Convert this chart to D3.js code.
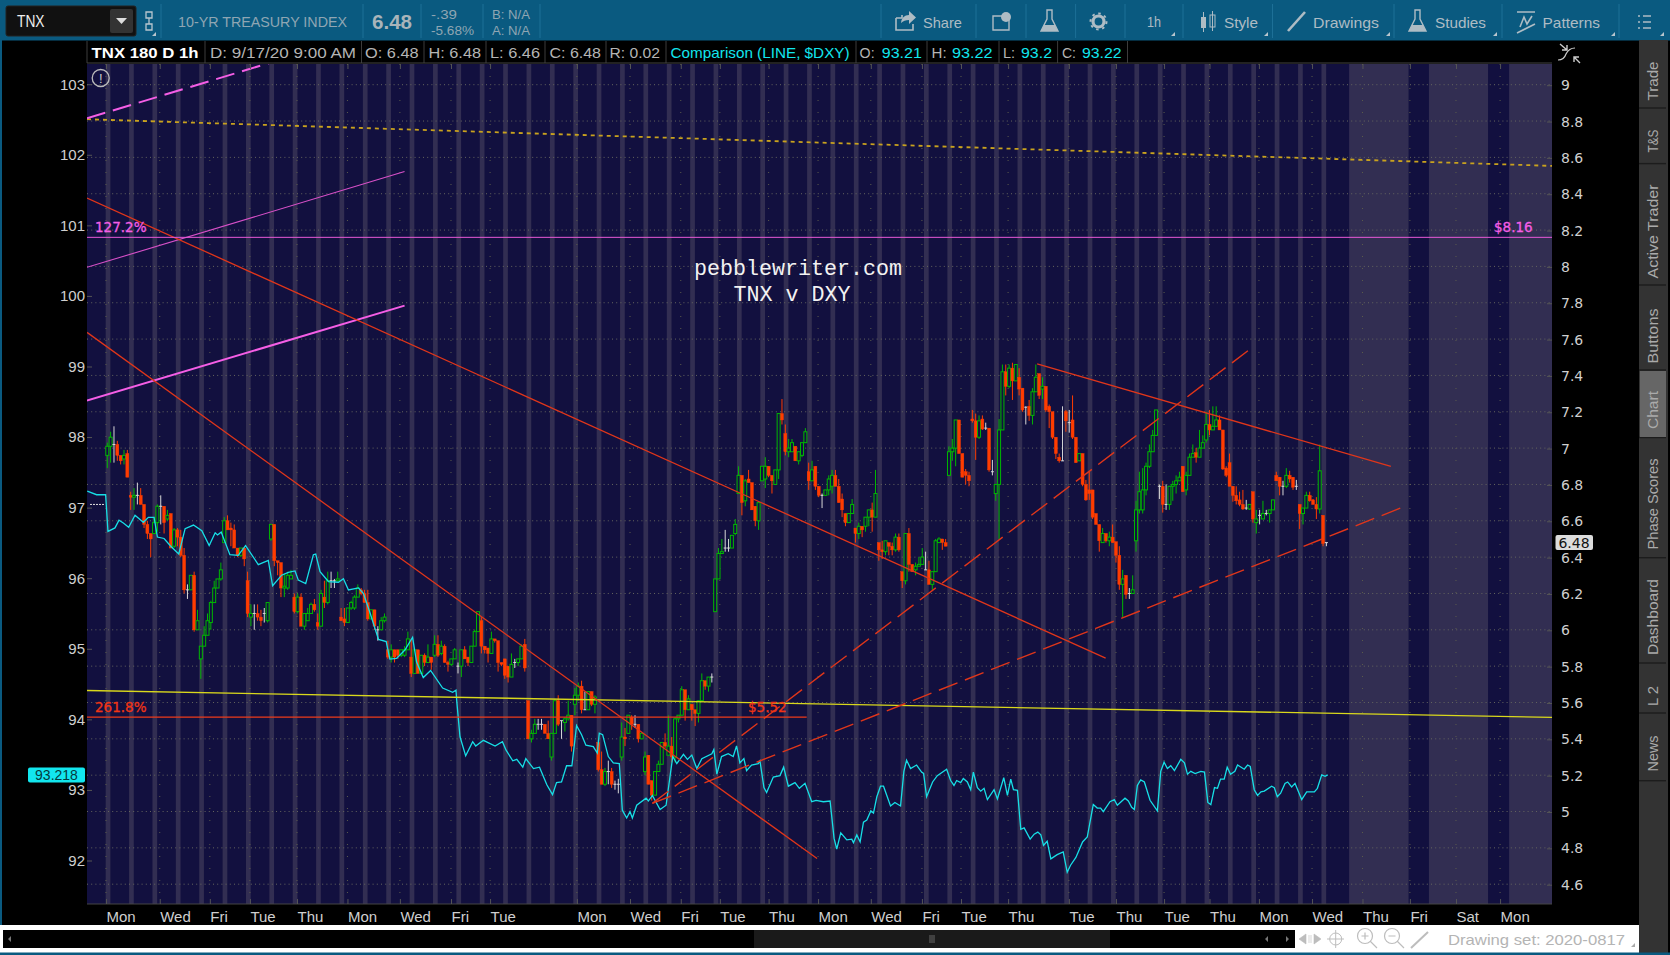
<!DOCTYPE html>
<html>
<head>
<meta charset="utf-8">
<title>TNX v DXY</title>
<script src="https://cdnjs.cloudflare.com/ajax/libs/d3/7.8.5/d3.min.js"></script>
<style>
  html, body { margin: 0; padding: 0; background: #000; overflow: hidden; }
  svg { display: block; }
  text { font-family: "Liberation Sans", sans-serif; }
</style>
</head>
<body>
<div class="canvas"></div>
<script>
// candles are [bar, open, high, low, close], one bar = 1 hour, 7 bars a day
const candlesAug = [
  [0,6.96,7.03,6.89,7.01],[1,7.01,7.09,6.92,7.06],[2,7.02,7.12,6.92,7.02],[3,7.02,7.04,6.93,6.96],[4,6.96,6.96,6.91,6.93],[5,6.94,6.99,6.91,6.96],[6,6.97,6.99,6.84,6.84],
  [7,6.74,6.76,6.66,6.73],[8,6.73,6.78,6.66,6.74],[9,6.74,6.81,6.69,6.74],[10,6.74,6.78,6.69,6.69],[11,6.69,6.69,6.56,6.58],[12,6.58,6.60,6.50,6.53],[13,6.53,6.53,6.40,6.50],
  [14,6.53,6.62,6.53,6.59],[15,6.59,6.69,6.54,6.68],[16,6.68,6.74,6.58,6.68],[17,6.68,6.68,6.53,6.59],[18,6.61,6.66,6.60,6.63],[19,6.64,6.64,6.45,6.45],[20,6.46,6.56,6.45,6.55],
  [21,6.55,6.56,6.46,6.51],[22,6.51,6.55,6.40,6.41],[23,6.41,6.45,6.20,6.22],[24,6.22,6.25,6.17,6.22],[25,6.22,6.30,6.22,6.30],[26,6.30,6.32,5.99,6.00],[27,6.00,6.11,6.00,6.05],
  [28,5.84,5.91,5.73,5.91],[29,5.91,6.02,5.91,5.97],[30,5.97,6.09,5.97,6.05],[31,6.04,6.16,6.00,6.15],[32,6.15,6.27,6.15,6.23],[33,6.23,6.28,6.23,6.28],[34,6.28,6.37,6.27,6.33],
  [35,6.48,6.62,6.48,6.60],[36,6.60,6.63,6.55,6.55],[37,6.56,6.59,6.46,6.55],[38,6.55,6.58,6.45,6.45],[39,6.45,6.45,6.40,6.41],[40,6.41,6.45,6.40,6.45],[41,6.45,6.45,6.35,6.39],
  [42,6.27,6.32,6.07,6.09],[43,6.07,6.14,6.02,6.09],[44,6.09,6.14,6.00,6.09],[45,6.09,6.14,6.05,6.07],[46,6.07,6.11,6.02,6.05],[47,6.09,6.12,6.04,6.09],[48,6.05,6.15,6.04,6.15],
  [49,6.50,6.58,6.49,6.58],[50,6.58,6.58,6.35,6.38],[51,6.38,6.38,6.30,6.37],[52,6.37,6.37,6.18,6.23],[53,6.23,6.31,6.18,6.24],[54,6.23,6.32,6.22,6.30],[55,6.28,6.33,6.28,6.30],
  [56,6.18,6.20,6.09,6.10],[57,6.10,6.20,6.09,6.18],[58,6.18,6.20,6.02,6.02],[59,6.02,6.09,6.00,6.09],[60,6.05,6.12,6.05,6.09],[61,6.09,6.15,6.09,6.14],[62,6.14,6.17,6.10,6.11],
  [63,6.04,6.09,6.00,6.02],[64,6.02,6.22,6.02,6.20],[65,6.18,6.27,6.12,6.15],[66,6.15,6.32,6.14,6.27],[67,6.27,6.32,6.23,6.27],[68,6.27,6.28,6.23,6.27],[69,6.27,6.32,6.27,6.28],
  [70,6.07,6.12,6.05,6.05],[71,6.06,6.12,6.02,6.04],[72,6.04,6.12,6.04,6.12],[73,6.12,6.16,6.11,6.15],[74,6.12,6.19,6.11,6.18],[75,6.18,6.25,6.18,6.23],[76,6.22,6.23,6.19,6.20],
  [77,6.20,6.22,6.15,6.15],[78,6.15,6.22,6.05,6.06],[79,6.06,6.11,6.06,6.11],[80,6.11,6.11,6.00,6.02],[81,6.00,6.02,5.94,6.00],[82,6.00,6.07,6.00,6.05],[83,6.05,6.09,6.04,6.07]
];
const candlesSep = [
  [84,5.89,5.94,5.84,5.85],[85,5.85,5.92,5.82,5.89],[86,5.89,5.89,5.82,5.85],[87,5.89,5.89,5.84,5.86],[88,5.86,5.89,5.85,5.89],[89,5.86,5.91,5.85,5.89],[90,5.89,5.99,5.89,5.95],
  [91,5.85,5.95,5.74,5.76],[92,5.76,5.89,5.76,5.89],[93,5.89,5.89,5.76,5.76],[94,5.76,5.86,5.76,5.86],[95,5.86,5.87,5.80,5.82],[96,5.82,5.92,5.82,5.85],[97,5.85,5.85,5.78,5.82],
  [98,5.86,5.97,5.85,5.92],[99,5.92,5.97,5.85,5.86],[100,5.87,5.94,5.86,5.91],[101,5.91,5.92,5.82,5.82],[102,5.82,5.83,5.77,5.81],[103,5.81,5.84,5.80,5.84],[104,5.84,5.90,5.84,5.89],
  [105,5.80,5.82,5.76,5.80],[106,5.80,5.89,5.74,5.89],[107,5.89,5.91,5.84,5.84],[108,5.85,5.85,5.80,5.82],[109,5.82,5.91,5.82,5.91],[110,5.91,6.00,5.91,5.99],[111,5.99,6.10,5.99,6.10],
  [112,6.05,6.07,5.87,5.91],[113,5.91,5.91,5.87,5.89],[114,5.90,5.90,5.82,5.87],[115,5.87,5.99,5.87,5.95],[116,5.95,5.95,5.93,5.94],[117,5.94,5.94,5.77,5.82],[118,5.82,5.82,5.80,5.81],
  [119,5.84,5.84,5.73,5.75],[120,5.80,5.80,5.71,5.74],[121,5.74,5.87,5.74,5.81],[122,5.82,5.84,5.79,5.82],[123,5.82,5.84,5.80,5.84],[124,5.84,5.92,5.84,5.91],[125,5.92,5.95,5.77,5.79],
  [126,5.61,5.61,5.40,5.40],[127,5.40,5.45,5.38,5.43],[128,5.43,5.51,5.43,5.48],[129,5.48,5.51,5.45,5.48],[130,5.48,5.51,5.45,5.48],[131,5.48,5.48,5.43,5.43],[132,5.43,5.50,5.40,5.40],
  [133,5.30,5.43,5.28,5.43],[134,5.43,5.62,5.43,5.61],[135,5.61,5.64,5.47,5.48],[136,5.50,5.50,5.40,5.50],[137,5.49,5.52,5.44,5.51],[138,5.51,5.61,5.50,5.53],[139,5.53,5.53,5.33,5.36],
  [140,5.59,5.68,5.53,5.64],[141,5.64,5.71,5.61,5.69],[142,5.69,5.72,5.54,5.56],[143,5.56,5.66,5.56,5.56],[144,5.56,5.66,5.56,5.66],[145,5.66,5.66,5.58,5.59],[146,5.59,5.64,5.54,5.63],
  [147,5.38,5.38,5.22,5.23],[148,5.23,5.33,5.15,5.15],[149,5.15,5.24,5.14,5.22],[150,5.22,5.28,5.15,5.22],[151,5.22,5.24,5.13,5.15],[152,5.15,5.17,5.12,5.15],[153,5.15,5.18,5.10,5.15],
  [154,5.30,5.49,5.28,5.41],[155,5.41,5.46,5.36,5.40],[156,5.43,5.53,5.43,5.53],[157,5.52,5.53,5.45,5.48],[158,5.48,5.53,5.46,5.48],[159,5.48,5.48,5.38,5.40],[160,5.40,5.43,5.40,5.43],
  [161,5.22,5.33,5.20,5.30],[162,5.31,5.31,5.15,5.15],[163,5.17,5.17,5.06,5.09],[164,5.09,5.22,5.09,5.22],[165,5.22,5.28,5.22,5.26],[166,5.26,5.38,5.26,5.38],[167,5.38,5.43,5.35,5.36],
  [168,5.31,5.53,5.31,5.36],[169,5.36,5.41,5.27,5.30],[170,5.30,5.52,5.27,5.51],[171,5.51,5.53,5.49,5.53],[172,5.53,5.69,5.53,5.67],[173,5.67,5.67,5.50,5.56],[174,5.56,5.64,5.56,5.62],
  [175,5.59,5.59,5.50,5.56],[176,5.56,5.56,5.47,5.54],[177,5.54,5.61,5.49,5.61],[178,5.61,5.76,5.61,5.72],[179,5.72,5.72,5.67,5.69],[180,5.69,5.74,5.66,5.74],[181,5.74,5.76,5.71,5.74]
];
const candlesOct = [
  [182,6.10,6.28,6.10,6.28],[183,6.28,6.45,6.28,6.42],[184,6.42,6.50,6.42,6.43],[185,6.45,6.55,6.43,6.45],[186,6.45,6.50,6.43,6.45],[187,6.45,6.52,6.45,6.52],[188,6.53,6.61,6.52,6.58],
  [189,6.75,6.90,6.75,6.85],[190,6.85,6.85,6.63,6.70],[191,6.71,6.83,6.68,6.82],[192,6.83,6.88,6.81,6.81],[193,6.81,6.81,6.66,6.66],[194,6.68,6.68,6.57,6.60],[195,6.60,6.70,6.55,6.70],
  [196,6.82,6.90,6.82,6.90],[197,6.83,6.95,6.78,6.90],[198,6.90,6.90,6.84,6.85],[199,6.85,6.85,6.75,6.82],[200,6.80,6.88,6.80,6.88],[201,6.88,7.19,6.83,7.19],[202,7.19,7.27,7.13,7.155],
  [203,7.08,7.13,6.96,6.98],[204,6.98,7.05,6.95,7.00],[205,6.98,7.05,6.98,7.03],[206,7.01,7.01,6.93,6.93],[207,6.93,6.98,6.91,6.98],[208,6.96,7.03,6.95,7.03],[209,7.03,7.11,7.03,7.09],
  [210,6.87,6.92,6.77,6.82],[211,6.82,6.93,6.82,6.88],[212,6.90,6.90,6.77,6.79],[213,6.79,6.79,6.73,6.74],[214,6.74,6.75,6.67,6.74],[215,6.74,6.77,6.74,6.77],[216,6.77,6.85,6.74,6.83],
  [217,6.79,6.88,6.75,6.85],[218,6.85,6.88,6.79,6.79],[219,6.79,6.83,6.70,6.70],[220,6.72,6.75,6.62,6.66],[221,6.64,6.64,6.57,6.59],[222,6.59,6.64,6.59,6.64],[223,6.64,6.72,6.64,6.69],
  [224,6.56,6.56,6.48,6.53],[225,6.53,6.59,6.50,6.57],[226,6.57,6.57,6.51,6.55],[227,6.57,6.62,6.54,6.62],[228,6.62,6.66,6.57,6.66],[229,6.66,6.70,6.54,6.62],[230,6.62,6.88,6.62,6.75],
  [231,6.48,6.48,6.38,6.44],[232,6.44,6.49,6.39,6.43],[233,6.43,6.49,6.41,6.49],[234,6.48,6.48,6.41,6.46],[235,6.46,6.48,6.41,6.44],[236,6.44,6.53,6.43,6.51],[237,6.51,6.53,6.43,6.44],
  [238,6.32,6.32,6.23,6.27],[239,6.27,6.53,6.25,6.53],[240,6.53,6.56,6.32,6.36],[241,6.36,6.36,6.32,6.32],[242,6.33,6.37,6.30,6.35],[243,6.35,6.40,6.35,6.36],[244,6.36,6.45,6.36,6.40],
  [245,6.33,6.43,6.33,6.33],[246,6.33,6.38,6.25,6.25],[247,6.25,6.32,6.22,6.32],[248,6.32,6.50,6.32,6.49],[249,6.48,6.51,6.48,6.50],[250,6.50,6.50,6.44,6.48],[251,6.48,6.50,6.46,6.46],
  [252,6.85,7.01,6.85,6.98],[253,6.98,7.05,6.93,7.00],[254,7.00,7.155,6.90,7.155],[255,7.155,7.155,6.97,6.97],[256,6.97,6.97,6.84,6.84],[257,6.87,6.885,6.80,6.85],[258,6.85,6.87,6.79,6.82],
  [259,7.16,7.21,7.14,7.15],[260,7.15,7.19,6.935,7.06],[261,7.06,7.18,7.05,7.15],[262,7.16,7.18,7.10,7.105],[263,7.11,7.14,7.10,7.11],[264,7.11,7.11,6.87,6.88],[265,6.87,6.935,6.85,6.87],
  [266,6.75,6.80,6.71,6.80],[267,6.80,7.16,6.50,7.10],[268,7.10,7.46,7.10,7.42],[269,7.42,7.46,7.29,7.34],[270,7.34,7.46,7.33,7.44],[271,7.44,7.47,7.265,7.37],[272,7.37,7.46,7.37,7.46],
  [273,7.39,7.44,7.29,7.325],[274,7.33,7.33,7.20,7.21],[275,7.225,7.23,7.13,7.225],[276,7.23,7.265,7.15,7.18],[277,7.18,7.33,7.13,7.31],[278,7.31,7.46,7.31,7.39],[279,7.41,7.41,7.27,7.29],
  [280,7.325,7.39,7.27,7.34],[281,7.34,7.34,7.20,7.21],[282,7.23,7.24,7.11,7.20],[283,7.20,7.20,7.05,7.06],[284,7.06,7.06,6.94,6.97],[285,6.95,6.97,6.92,6.93],[286,6.93,7.23,6.93,6.93],
  [287,7.20,7.21,7.09,7.15],[288,7.14,7.21,7.085,7.14],[289,7.155,7.29,7.05,7.06],[290,7.06,7.06,6.92,6.92],[291,6.93,6.97,6.93,6.97],[292,6.97,6.97,6.79,6.80],[293,6.80,6.825,6.71,6.715],
  [294,6.77,6.87,6.715,6.75],[295,6.77,6.77,6.61,6.62],[296,6.64,6.64,6.58,6.58],[297,6.58,6.58,6.43,6.49],[298,6.48,6.56,6.48,6.53],[299,6.53,6.53,6.48,6.49],[300,6.49,6.54,6.46,6.51],
  [301,6.51,6.58,6.48,6.48],[302,6.485,6.485,6.37,6.41],[303,6.41,6.46,6.22,6.25],[304,6.25,6.33,6.07,6.28],[305,6.30,6.30,6.17,6.195],[306,6.20,6.23,6.17,6.20],[307,6.20,6.30,6.20,6.22]
];
const candlesLast = [
  [308,6.49,6.71,6.43,6.66],[309,6.66,6.87,6.64,6.76],[310,6.66,6.89,6.64,6.77],[311,6.77,6.92,6.74,6.90],[312,6.90,7.02,6.89,6.98],[313,6.98,7.10,6.98,7.07],[314,7.07,7.21,7.07,7.21],
  [315,6.79,6.80,6.72,6.79],[316,6.79,6.82,6.645,6.69],[317,6.69,6.80,6.66,6.69],[318,6.69,6.79,6.66,6.79],[319,6.79,6.82,6.71,6.80],[320,6.80,6.85,6.75,6.82],[321,6.82,6.87,6.82,6.84],
  [322,6.90,6.90,6.76,6.76],[323,6.77,6.87,6.74,6.85],[324,6.85,6.97,6.85,6.95],[325,6.95,7.02,6.95,6.97],[326,6.975,7.00,6.92,6.95],[327,6.95,7.10,6.95,7.00],[328,7.00,7.07,7.00,7.03],
  [329,7.045,7.20,7.03,7.13],[330,7.13,7.21,7.07,7.10],[331,7.10,7.23,7.10,7.12],[332,7.12,7.23,7.12,7.155],[333,7.155,7.18,7.10,7.10],[334,7.10,7.10,6.88,6.885],[335,6.89,6.90,6.84,6.85],
  [336,6.92,6.97,6.79,6.79],[337,6.79,6.79,6.705,6.74],[338,6.74,6.79,6.69,6.71],[339,6.715,6.76,6.68,6.69],[340,6.69,6.77,6.66,6.665],[341,6.67,6.715,6.66,6.67],[342,6.665,6.69,6.66,6.69],
  [343,6.76,6.76,6.59,6.61],[344,6.59,6.66,6.53,6.61],[345,6.63,6.66,6.58,6.63],[346,6.61,6.71,6.61,6.64],[347,6.64,6.66,6.63,6.64],[348,6.64,6.66,6.59,6.66],[349,6.66,6.715,6.66,6.715],
  [350,6.85,6.87,6.82,6.82],[351,6.84,6.84,6.74,6.79],[352,6.79,6.82,6.74,6.79],[353,6.79,6.89,6.78,6.85],[354,6.85,6.875,6.81,6.83],[355,6.84,6.84,6.77,6.785],[356,6.79,6.825,6.77,6.79],
  [357,6.69,6.69,6.555,6.64],[358,6.64,6.67,6.58,6.67],[359,6.67,6.76,6.67,6.74],[360,6.74,6.76,6.705,6.71],[361,6.715,6.72,6.69,6.69],[362,6.69,6.73,6.61,6.665],[363,6.665,7.02,6.64,6.875],
  [364,6.63,6.63,6.46,6.475],[365,6.48,6.48,6.46,6.48]
];
const candles = [...candlesAug, ...candlesSep, ...candlesOct, ...candlesLast];

// $DXY comparison, [bar, value]
const dxyA = [[-6,97.24],[-3.2,97.19],[-0.5,97.19],[0.2,96.67],[2.3,96.72],[3.5,96.83],[4.8,96.79],[6.4,96.73],[8.3,96.9],[10.8,96.8],[12.3,96.87],[14,96.87],[15,96.59],[17,96.57],[19,96.46],[21.4,96.35],[23.3,96.71],[25.8,96.76],[28.3,96.68],[30.5,96.47],[32.3,96.65],[33,96.62],[34.1,96.66],[36.7,96.34],[39.2,96.33],[41.4,96.47],[45.2,96.2],[48.2,96.26],[49.5,95.9],[52.2,96.05],[54.2,96.09],[56.2,96.11],[57.2,95.98],[59.4,95.93],[61.7,96.34],[62.4,96.35],[63.7,96.1],[66.2,95.96],[69.2,95.95],[70.7,96],[72.2,95.84],[75.2,95.87],[76.7,95.79],[78.7,95.51],[81.2,95.14],[83.5,95.11],[84.6,94.86],[86.6,94.87],[89.1,94.99],[91.4,95.17],[92.6,94.82],[94.6,94.6],[96.8,94.7],[100.4,94.45],[103.4,94.39],[104.4,94.42]];
const dxyB = [[104.6,94.28],[105.6,93.76],[107.3,93.49],[109.4,93.69],[110.3,93.63],[112.6,93.71],[116.1,93.63],[118.3,93.69],[119.4,93.57],[121.4,93.42],[122.6,93.44],[124.4,93.33],[125.3,93.45],[127.6,93.31],[129.4,93.33],[131.6,93.08],[133.3,92.94],[134.5,93.11],[136,93.12],[137.5,93.35],[139.1,93.35],[140.5,93.92],[142,93.79],[143.3,93.64],[145.5,93.62],[146.7,93.53],[147.3,93.81],[148.3,93.79],[150,93.48],[151.5,93.39],[153.3,93.38],[154.2,92.72],[155.5,92.61],[156.5,92.7],[157.2,92.61],[158.5,92.79],[161.3,92.89],[162,92.85],[163.2,92.93],[165.5,92.73],[167.3,92.79],[169.3,93.48],[170.5,93.38],[172.5,93.51],[173.7,93.44],[175,93.5],[176.5,93.31],[178,93.45],[181,93.52],[181.6,93.58],[182.5,93.23],[183.9,93.48],[185.9,93.52],[187.4,93.48],[188.4,93.63],[189.4,93.39],[190.6,93.45],[191.4,93.28],[192.9,93.36],[194.9,93.38],[195.4,93.42],[196.6,93.04],[197.4,92.97],[199.4,93.19],[201.4,93.21],[202.5,93.33],[203.9,93.06],[205.9,93.11],[207.2,93.03],[208.9,93.1],[210.9,92.84],[212.2,92.86],[214.4,92.84],[216.4,92.85],[217.6,92.32],[218.4,92.17],[219.6,92.4],[221.4,92.3],[222.9,92.31],[223.4,92.26],[224.4,92.37],[225.4,92.27]];
const dxyC = [[226.4,92.55],[227.4,92.58],[228.6,92.71],[229.4,92.68],[230.4,92.91],[231.5,93.06],[232.4,93.06],[234.5,92.78],[235.8,92.83],[237.5,92.78],[238.5,93.27],[239.3,93.43],[240.5,93.31],[242.3,93.36],[243.8,93.26],[244.4,93.24],[245.3,92.91],[247.1,93.12],[248.5,93.21],[251.3,93.3],[252.5,93.14],[253.5,93.07],[254.3,93.14],[255.5,93.11],[256.3,93.17],[257.5,93.12],[258.5,93.01],[259.3,93.26],[260.5,93.04],[261.5,92.99],[262.5,93.03],[263.5,92.87],[265.5,93.01],[266.5,92.88],[268.4,93.18],[269.5,92.93],[270.5,93.16],[271.3,93.01],[272.5,93],[273.5,92.45],[274.5,92.47],[276.3,92.31],[277.5,92.38],[278.6,92.41],[279.5,92.37],[280.3,92.22],[281.4,92.28],[282.5,92.03],[284.4,92.09],[286.2,92.13],[287.4,91.84],[288.4,91.94],[290,92.05],[292,92.27],[293.4,92.34],[295.2,92.8],[296.4,92.75],[297.4,92.75],[298.2,92.7],[300.2,92.84],[301.5,92.87],[302.4,92.79],[304.7,92.89],[305.7,92.85],[306.7,92.76],[307.5,92.73],[308.4,93.07],[309.4,93.15],[310.5,93.12],[312.2,92.86],[314.4,92.71],[315.4,93.27],[316.4,93.4],[317.4,93.31],[318.4,93.35],[319.5,93.28],[321.4,93.44],[322.5,93.39],[323.4,93.23],[324.4,93.27],[325.7,93.24],[327.4,93.27],[328.5,93.26],[329.5,92.83],[330.4,92.8],[331.5,93.04],[332.4,93.03],[333.3,93.16],[334.4,93.16],[335.3,93.33],[336.3,93.23],[337.6,93.27],[338.4,93.36],[340.4,93.3],[341.4,93.36],[342.2,93.34],[343.4,93.01],[344.4,92.93],[345.4,92.98],[346.4,92.99],[348.6,93.06],[349.4,93.04],[350.3,92.91],[351.3,92.96],[352.6,93.1],[353.4,93.12],[354.6,93.05],[355.6,93.1],[357.6,92.87],[359.1,92.98],[361.4,92.98],[362.3,93.03],[363.6,93.22],[364.6,93.2],[365.4,93.22]];
const dxyLine = [...dxyA, ...dxyB, ...dxyC];

// drawings, [bar, price] at both ends
const pinkLines = [[[-6.08,7.995],[89,8.522]]];
const pinkThick = [[[-6.08,7.262],[89,7.784]]];
const pinkDashed = [[[-6.08,8.815],[54,9.15]]];
const goldDashed = [[[-6.08,8.81],[432.6,8.553]]];
const yellowLines = [[[-6.08,5.666],[432.6,5.518]]];
const redLines = [
  [[-6.08,8.376],[298.9,5.844]],
  [[-6.08,7.637],[212.5,4.741]],
  [[278.4,7.463],[384.3,6.899]]
];
const redDashed = [
  [[163.2,5.045],[342,7.543]],
  [[163.2,5.045],[387.2,6.67]]
];
const level127 = 8.16;
const level261 = 5.52;
const prevClose = 6.69;

const rightTicks = [9,8.8,8.6,8.4,8.2,8,7.8,7.6,7.4,7.2,7,6.8,6.6,6.4,6.2,6,5.8,5.6,5.4,5.2,5,4.8,4.6];
const leftTicks = [103,102,101,100,99,98,97,96,95,94,93,92];
const dayTicks = [-0.4,15.7,30.7,42.7,56.8,71.9,87.6,102.9,114.6,140.6,156.5,171.7,183.4,198,212.8,228.6,243.9,255.6,269.7,287.9,302,316.4,330,344.8,360.7,375.8,390,403.8,417];
const dayLabels = ['Mon','Wed','Fri','Tue','Thu','Mon','Wed','Fri','Tue','Mon','Wed','Fri','Tue','Thu','Mon','Wed','Fri','Tue','Thu','Tue','Thu','Tue','Thu','Mon','Wed','Thu','Fri','Sat','Mon'];
const futureBands = [[371.8,389.6],[395.7,413.4],[419.7,432.6]];
const sessionBars = d3.range(0, 53).map(k => k * 7);

const W = 1670, H = 955;
const plot = {left: 87, right: 1552, top: 64, bottom: 904};

const svg = d3.select('.canvas').append('svg').attr('width', W).attr('height', H);

//scales
const x = d3.scaleLinear().domain([0, 100]).range([107.3, 441.3]);
const y = d3.scaleLinear().domain([9, 4.6]).range([84.7, 884.2]);
const yDxy = d3.scaleLinear().domain([103, 92]).range([84.7, 861]);

//small helper for the text of the platform chrome, w forces the drawn width
const label = (g, px, py, str, o = {}) => {
  const t = g.append('text').attr('x', px).attr('y', py).text(str)
    .attr('dominant-baseline', 'central')
    .attr('font-size', o.size || 15)
    .attr('fill', o.fill || '#cfcfcf');
  if (o.w) t.attr('textLength', o.w).attr('lengthAdjust', 'spacingAndGlyphs');
  if (o.bold) t.attr('font-weight', 'bold');
  if (o.font) t.style('font-family', o.font);
  if (o.anchor) t.attr('text-anchor', o.anchor);
  if (o.stroke) t.attr('stroke', o.fill).attr('stroke-width', o.stroke);
  return t;
};

// ---- platform frame ----
const frame = svg.append('g');
frame.append('rect').attr('width', W).attr('height', H).attr('fill', '#000');
frame.append('rect').attr('width', W).attr('height', 40.5).attr('fill', '#0a5a80');
frame.append('rect').attr('y', 0).attr('width', 2).attr('height', H).attr('fill', '#0a5a80');
frame.append('rect').attr('x', 1639).attr('y', 40).attr('width', 29).attr('height', 913).attr('fill', '#333');
frame.append('rect').attr('x', 0).attr('y', 925).attr('width', 1639).attr('height', 28).attr('fill', '#fff');
frame.append('rect').attr('x', 0).attr('y', 952.5).attr('width', W).attr('height', 2.5).attr('fill', '#0a5a80');

// toolbar
const bar = svg.append('g');
[161,363,421,483,540,881,976,1026,1075.6,1125,1183,1272.5,1394,1502,1619].forEach(px => {
  bar.append('line').attr('x1', px).attr('x2', px).attr('y1', 4).attr('y2', 38).attr('stroke', '#1d7097');
});
bar.append('rect').attr('x', 6).attr('y', 6).attr('width', 130).attr('height', 30).attr('rx', 2).attr('fill', '#111').attr('stroke', '#222');
bar.append('rect').attr('x', 110).attr('y', 9).attr('width', 23).attr('height', 24).attr('rx', 2).attr('fill', '#333');
bar.append('path').attr('d', 'M116 18 h11 l-5.5 6 z').attr('fill', '#ddd');
label(bar, 17, 21, 'TNX', {w: 27.5, fill: '#eee', size: 16});
bar.append('path').attr('d', 'M146 12 h6 v6 h-6 z M146 24 h6 v6 h-6 z M149 18 v6').attr('fill', 'none').attr('stroke', '#b9c6ce').attr('stroke-width', 1.3);
label(bar, 178, 21, '10-YR TREASURY INDEX', {w: 169, fill: '#8fa6b3'});
label(bar, 372, 22, '6.48', {w: 40, fill: '#a9b4ba', size: 20, bold: true});
label(bar, 431, 14, '-.39', {w: 26, fill: '#8fa6b3', size: 13});
label(bar, 431, 30, '-5.68%', {w: 43, fill: '#8fa6b3', size: 13});
label(bar, 492, 14, 'B: N/A', {w: 38, fill: '#8fa6b3', size: 13});
label(bar, 492, 30, 'A: N/A', {w: 38, fill: '#8fa6b3', size: 13});
const chrome = '#aebcc4';
label(bar, 923, 22, 'Share', {w: 39, fill: chrome});
label(bar, 1147, 21, '1h', {w: 14, fill: chrome});
label(bar, 1224, 22, 'Style', {w: 34, fill: chrome});
label(bar, 1313, 22, 'Drawings', {w: 66, fill: chrome});
label(bar, 1435, 22, 'Studies', {w: 51, fill: chrome});
label(bar, 1542.5, 22, 'Patterns', {w: 57.5, fill: chrome});
// toolbar icons
bar.append('path').attr('d', 'M896 18 h6 v-3 M896 18 v12 h17 v-6').attr('fill', 'none').attr('stroke', chrome).attr('stroke-width', 1.6);
bar.append('path').attr('d', 'M901 23 q1 -8 8 -8 v-4 l7 6.5 -7 6.5 v-4 q-5 0 -8 3 z').attr('fill', chrome);
bar.append('path').attr('d', 'M993 16 h16 v14 h-16 z').attr('fill', 'none').attr('stroke', chrome).attr('stroke-width', 1.4);
bar.append('circle').attr('cx', 1006).attr('cy', 17).attr('r', 5).attr('fill', chrome);
[1041, 1409].forEach(px => {
  bar.append('path').attr('d', `M${px + 6} 10 h5 v9 l6 12 h-17 l6 -12 z`).attr('fill', 'none').attr('stroke', chrome).attr('stroke-width', 1.4);
  bar.append('path').attr('d', `M${px + 3} 25 h11 l3 6 h-17 z`).attr('fill', chrome);
});
bar.append('circle').attr('cx', 1098.5).attr('cy', 21.5).attr('r', 5.5).attr('fill', 'none').attr('stroke', chrome).attr('stroke-width', 3.2);
bar.append('circle').attr('cx', 1098.5).attr('cy', 21.5).attr('r', 8).attr('fill', 'none').attr('stroke', chrome).attr('stroke-width', 2).attr('stroke-dasharray', '2.5 3.7');
bar.append('rect').attr('x', 1201).attr('y', 17).attr('width', 5).attr('height', 11).attr('fill', chrome);
bar.append('rect').attr('x', 1210).attr('y', 15).attr('width', 5).attr('height', 12).attr('fill', 'none').attr('stroke', chrome);
bar.append('path').attr('d', 'M1203.5 12 v20 M1212.5 11 v20').attr('stroke', chrome);
bar.append('path').attr('d', 'M1288 31 L1305 12').attr('stroke', chrome).attr('stroke-width', 2.6);
bar.append('path').attr('d', 'M1517 12 h18 M1520 27 l4 -10 3 7 5 -8 M1517 33 l18 -9').attr('fill', 'none').attr('stroke', chrome).attr('stroke-width', 1.6);
[16, 22, 28].forEach(py => {
  bar.append('path').attr('d', `M1638 ${py} h2 M1643 ${py} h8`).attr('stroke', chrome).attr('stroke-width', 1.6);
});
[[156,36],[1175,36],[1268,36],[1390,36],[1497,36],[1615,36],[1664,36]].forEach(p => {
  bar.append('path').attr('d', `M${p[0]} ${p[1]} v-4 l-4 4 z`).attr('fill', '#b9c6ce');
});

// readout row
const info = svg.append('g');
[87,205,361.5,424,486,545,606,666,856,927,999,1057.6,1127.5].forEach(px => {
  info.append('line').attr('x1', px).attr('x2', px).attr('y1', 41).attr('y2', 63).attr('stroke', '#3c3c3c');
});
info.append('line').attr('x1', 87).attr('x2', 1552).attr('y1', 63).attr('y2', 63).attr('stroke', '#444');
label(info, 91.6, 52, 'TNX 180 D 1h', {w: 107, fill: '#fff', bold: true, size: 15});
label(info, 210, 52, 'D: 9/17/20 9:00 AM', {w: 146, fill: '#b5b5b5'});
[['O: 6.48',365,53.6],['H: 6.48',428.5,52.5],['L: 6.46',490,50],['C: 6.48',549.5,51.5],['R: 0.02',609.5,50.5]].forEach(d => {
  label(info, d[1], 52, d[0], {w: d[2], fill: '#b5b5b5'});
});
label(info, 670.6, 52, 'Comparison (LINE, $DXY)', {w: 179, fill: '#12e6ee'});
[['O:',859.6,15,'93.21',881.8,40],['H:',931.6,15,'93.22',952,40.5],['L:',1003,12,'93.2',1021,31],['C:',1062,14,'93.22',1082,39.6]].forEach(d => {
  label(info, d[1], 52, d[0], {w: d[2], fill: '#b5b5b5'});
  label(info, d[4], 52, d[3], {w: d[5], fill: '#12e6ee'});
});
// scale toggle top right
info.append('path').attr('d', 'M1558 60 q6 0 8 -6 q3 -6 9 -6').attr('fill', 'none').attr('stroke', '#ccc').attr('stroke-width', 1.2);
info.append('path').attr('d', 'M1560 44 l7 6 M1567 45 v5 h-5 M1580 63 l-6 -6 M1574 62 v-5 h5').attr('fill', 'none').attr('stroke', '#ccc').attr('stroke-width', 1.4);

// right side tabs
const tabs = svg.append('g');
[108,163.6,285,370,437.5,557.7,663,713,780.7].forEach(py => {
  tabs.append('line').attr('x1', 1639).attr('x2', 1666).attr('y1', py).attr('y2', py).attr('stroke', '#1c1c1c').attr('stroke-width', 1.4);
});
tabs.append('rect').attr('x', 1640).attr('y', 371).attr('width', 26).attr('height', 66).attr('fill', '#666');
[['Trade',81,39],['T&S',141,23],['Active Trader',231.5,94],['Buttons',336,55],['Chart',410,38],['Phase Scores',504,91],['Dashboard',617,76],['L 2',696,20],['News',753.5,36]].forEach(d => {
  label(tabs, 0, 0, d[0], {w: d[2], fill: '#aaa', anchor: 'middle'})
    .attr('transform', `translate(1652.5, ${d[1]}) rotate(-90)`);
});

// ---- plot background ----
const clip = svg.append('defs').append('clipPath').attr('id', 'plotClip');
clip.append('rect').attr('x', plot.left).attr('y', plot.top).attr('width', plot.right - plot.left).attr('height', plot.bottom - plot.top);
const graph = svg.append('g').attr('clip-path', 'url(#plotClip)');
graph.append('rect').attr('x', plot.left).attr('y', plot.top).attr('width', plot.right - plot.left).attr('height', plot.bottom - plot.top).attr('fill', '#12103f');

graph.selectAll('rect.session').data(sessionBars).enter().append('rect').attr('class', 'session')
  .attr('x', d => x(d) - 1.6).attr('y', plot.top).attr('width', 4.7).attr('height', plot.bottom - plot.top).attr('fill', '#322e52');
graph.selectAll('rect.future').data(futureBands).enter().append('rect').attr('class', 'future')
  .attr('x', d => x(d[0])).attr('y', plot.top).attr('width', d => x(d[1]) - x(d[0])).attr('height', plot.bottom - plot.top).attr('fill', '#322e52');

// dotted grid
graph.selectAll('line.gridH').data(rightTicks).enter().append('line').attr('class', 'gridH')
  .attr('x1', plot.left).attr('x2', plot.right).attr('y1', d => y(d)).attr('y2', d => y(d))
  .attr('stroke', '#65655f').attr('stroke-dasharray', '1 3.2');
graph.selectAll('line.gridV').data(dayTicks).enter().append('line').attr('class', 'gridV')
  .attr('x1', d => x(d)).attr('x2', d => x(d)).attr('y1', plot.top).attr('y2', plot.bottom)
  .attr('stroke', '#5c5c4c').attr('stroke-dasharray', '1 11');

// ---- candles ----
const candleColour = d => d[4] > d[1] ? '#00b800' : d[4] < d[1] ? '#ff3c00' : '#d8d8d8';
const candleG = graph.selectAll('g.candle').data(candles).enter().append('g').attr('class', 'candle');
candleG.append('line')
  .attr('x1', d => x(d[0])).attr('x2', d => x(d[0]))
  .attr('y1', d => y(d[2])).attr('y2', d => y(d[3]))
  .attr('stroke', candleColour).attr('stroke-width', 1);
candleG.filter(d => d[4] !== d[1]).append('rect')
  .attr('x', d => x(d[0]) - 1.5).attr('width', 3)
  .attr('y', d => y(Math.max(d[1], d[4])))
  .attr('height', d => Math.max(1, Math.abs(y(d[1]) - y(d[4]))))
  .attr('fill', d => d[4] > d[1] ? '#12103f' : '#ff3c00')
  .attr('stroke', d => d[4] > d[1] ? '#00b800' : '#ff3c00')
  .attr('stroke-width', d => d[4] > d[1] ? 1 : 0.4);
candleG.filter(d => d[4] === d[1]).append('line')
  .attr('x1', d => x(d[0]) - 1.5).attr('x2', d => x(d[0]) + 1.5)
  .attr('y1', d => y(d[1])).attr('y2', d => y(d[1]))
  .attr('stroke', '#d8d8d8');

graph.append('line').attr('x1', 90).attr('x2', 105).attr('y1', y(prevClose)).attr('y2', y(prevClose))
  .attr('stroke', '#ddd').attr('stroke-dasharray', '2 1');

// ---- comparison line ----
const dxyPath = d3.line().x(d => x(d[0])).y(d => yDxy(d[1]));
graph.append('path').datum(dxyLine).attr('d', dxyPath)
  .attr('fill', 'none').attr('stroke', '#17dfe6').attr('stroke-width', 1.3);

// ---- trend lines ----
const trend = d3.line().x(d => x(d[0])).y(d => y(d[1]));
const drawLines = (data, colour, width, dash) => {
  graph.append('g').selectAll('path').data(data).enter().append('path')
    .attr('d', trend).attr('fill', 'none')
    .attr('stroke', colour).attr('stroke-width', width)
    .attr('stroke-dasharray', dash || null);
};
drawLines(goldDashed, '#c9a21e', 1.8, '4 4');
drawLines(pinkDashed, '#f55ee6', 2, '19 8');
drawLines(pinkLines, '#d850c8', 1.1);
drawLines(pinkThick, '#f55ee6', 2);
drawLines(yellowLines, '#d9d81c', 1.3);
drawLines(redLines, '#e0361a', 1.3);
drawLines(redDashed, '#e0361a', 1.4, '20 8');

graph.append('line').attr('x1', plot.left).attr('x2', plot.right).attr('y1', y(level127)).attr('y2', y(level127))
  .attr('stroke', '#e85ad8').attr('stroke-width', 1);
graph.append('line').attr('x1', plot.left).attr('x2', x(209.4)).attr('y1', y(level261)).attr('y2', y(level261))
  .attr('stroke', '#ee3a1a').attr('stroke-width', 1.3);

// annotations
const notes = svg.append('g');
const dj = '"DejaVu Sans", sans-serif';
label(notes, 95, 227, '127.2%', {fill: '#f55ee6', size: 13.5, font: dj, stroke: 0.3});
label(notes, 1494, 227, '$8.16', {fill: '#f55ee6', size: 13.5, font: dj, stroke: 0.3});
label(notes, 95, 707, '261.8%', {fill: '#f03515', size: 13.5, font: dj, stroke: 0.3});
label(notes, 748, 707, '$5.52', {fill: '#f03515', size: 13.5, font: dj, stroke: 0.3});
label(notes, 798, 269, 'pebblewriter.com', {fill: '#f2f2f2', size: 21.7, font: '"Liberation Mono", monospace', anchor: 'middle'});
label(notes, 792, 295, 'TNX v DXY', {fill: '#f2f2f2', size: 21.7, font: '"Liberation Mono", monospace', anchor: 'middle'});
notes.append('circle').attr('cx', 100.7).attr('cy', 78).attr('r', 8.5).attr('fill', 'none').attr('stroke', '#bbb').attr('stroke-width', 1.3);
label(notes, 100.7, 78, '!', {fill: '#ccc', size: 13, anchor: 'middle'});

// ---- axes ----
const xAxisBottom = d3.axisBottom(x).tickValues(dayTicks).tickSize(-5).tickPadding(7)
  .tickFormat((d, i) => dayLabels[i]);
const xAxisTop = d3.axisTop(x).tickValues(dayTicks).tickSize(-5).tickFormat('');
const yAxisRight = d3.axisRight(y).tickValues(rightTicks).tickSize(-5).tickPadding(9)
  .tickFormat(d => +d.toFixed(1));
const yAxisLeft = d3.axisLeft(yDxy).tickValues(leftTicks).tickSize(-5).tickPadding(2)
  .tickFormat(d => d);

const axisStyle = (g, font, size) => {
  g.select('.domain').attr('stroke', '#444');
  g.selectAll('.tick line').attr('stroke', '#555');
  g.selectAll('.tick text').attr('fill', '#cfcfcf').style('font-family', font).attr('font-size', size);
};
svg.append('g').attr('transform', `translate(0, ${plot.bottom})`).call(xAxisBottom)
  .call(axisStyle, '"Liberation Sans", sans-serif', 15)
  .call(g => g.select('.domain').attr('d', `M${plot.left},0H${plot.right}`))
  .call(g => g.selectAll('.tick text').attr('text-anchor', 'start'));
svg.append('g').attr('transform', `translate(0, ${plot.top})`).call(xAxisTop)
  .call(axisStyle, '"Liberation Sans", sans-serif', 15)
  .call(g => g.select('.domain').remove());
svg.append('g').attr('transform', `translate(${plot.right}, 0.5)`).call(yAxisRight)
  .call(axisStyle, dj, 14)
  .call(g => g.select('.domain').remove());
svg.append('g').attr('transform', `translate(${plot.left}, -0.5)`).call(yAxisLeft)
  .call(axisStyle, '"Liberation Sans", sans-serif', 15)
  .call(g => g.select('.domain').remove());

// last value badges
const badges = svg.append('g');
badges.append('rect').attr('x', 28).attr('y', yDxy(93.218) - 7.5).attr('width', 57).attr('height', 15).attr('rx', 2).attr('fill', '#12e6ee');
label(badges, 56.5, yDxy(93.218), '93.218', {fill: '#063a3c', size: 14, anchor: 'middle'});
badges.append('rect').attr('x', 1555.5).attr('y', y(6.48) - 7.5).attr('width', 37.5).attr('height', 15).attr('rx', 2).attr('fill', '#dcdcdc');
label(badges, 1574, y(6.48), '6.48', {fill: '#111', size: 14, font: dj, anchor: 'middle'});

// bottom scroller
const foot = svg.append('g');
foot.append('rect').attr('x', 3).attr('y', 930).attr('width', 1292).attr('height', 18).attr('fill', '#000');
foot.append('rect').attr('x', 754).attr('y', 930).attr('width', 356).attr('height', 18).attr('fill', '#1a1a1a');
foot.append('path').attr('d', 'M930 935 v8 M932 935 v8 M934 935 v8').attr('stroke', '#666');
foot.append('path').attr('d', 'M11 936 l-3 3 3 3 z M1268 936 l-3 3 3 3 z M1286 936 l3 3 -3 3 z').attr('fill', '#777');
const grey = '#bdbdbd';
foot.append('path').attr('d', 'M1306 934 l-7 5 7 5 z M1314 934 l7 5 -7 5 z M1309 935 v8 M1311 935 v8').attr('fill', grey).attr('stroke', grey).attr('stroke-width', 0.6);
foot.append('circle').attr('cx', 1335.7).attr('cy', 939).attr('r', 6).attr('fill', 'none').attr('stroke', grey);
foot.append('path').attr('d', 'M1327 939 h17 M1335.7 930 v18').attr('stroke', grey);
[1365, 1392].forEach(px => {
  foot.append('circle').attr('cx', px).attr('cy', 936).attr('r', 7.5).attr('fill', 'none').attr('stroke', grey).attr('stroke-width', 1.2);
  foot.append('path').attr('d', `M${px + 5} ${941} l7 7 M${px - 3.5} 936 h7`).attr('stroke', grey).attr('stroke-width', 1.2);
});
foot.append('path').attr('d', 'M1365 932.5 v7').attr('stroke', grey).attr('stroke-width', 1.2);
foot.append('path').attr('d', 'M1411 948 L1428 932').attr('stroke', grey).attr('stroke-width', 2);
label(foot, 1448, 939, 'Drawing set: 2020-0817', {w: 177, fill: '#b4b4b4'});
foot.append('path').attr('d', 'M1635 943 v4 h-4 z').attr('fill', '#aaa');
</script>
</body>
</html>
